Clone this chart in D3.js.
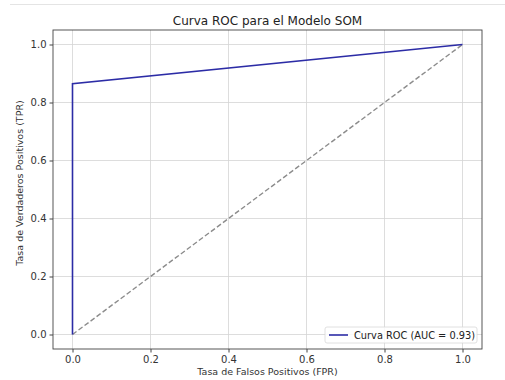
<!DOCTYPE html>
<html>
<head>
<meta charset="utf-8">
<script src="https://cdn.jsdelivr.net/npm/d3@7"></script>
<style>
  html, body { margin: 0; padding: 0; background: #fff; }
  svg { display: block; font-family: "DejaVu Sans", sans-serif; }
</style>
</head>
<body>
<svg id="chart" width="505" height="380"></svg>
<script>
// ROC curve points (FPR, TPR)
const fpr = [0.0, 0.0, 1.0];
const tpr = [0.0, 0.865, 1.0];
const aucValue = 0.93;
// Reference diagonal of a random classifier
const diagX = [0, 1];
const diagY = [0, 1];
const tickValues = [0.0, 0.2, 0.4, 0.6, 0.8, 1.0];

const svg = d3.select("#chart");
const m = { left: 53, right: 482, top: 30, bottom: 349 };

const x = d3.scaleLinear().domain([-0.05, 1.05]).range([m.left, m.right]);
const y = d3.scaleLinear().domain([-0.05, 1.05]).range([m.bottom, m.top]);

// faint rule across the top of the page
svg.append("line").attr("x1", 10).attr("x2", 505).attr("y1", 4.5).attr("y2", 4.5)
  .attr("stroke", "#e4e4e4").attr("stroke-width", 1);

// grid
const grid = svg.append("g");
grid.selectAll(".gx").data(tickValues).enter().append("line")
  .attr("x1", d => x(d)).attr("x2", d => x(d))
  .attr("y1", m.top).attr("y2", m.bottom)
  .attr("stroke", "#d4d4d4").attr("stroke-width", 0.8);
grid.selectAll(".gy").data(tickValues).enter().append("line")
  .attr("y1", d => y(d)).attr("y2", d => y(d))
  .attr("x1", m.left).attr("x2", m.right)
  .attr("stroke", "#d4d4d4").attr("stroke-width", 0.8);

// axes
const fmt = d3.format(".1f");
const xAxis = svg.append("g").attr("transform", `translate(0,${m.bottom})`)
  .call(d3.axisBottom(x).tickValues(tickValues).tickFormat(fmt).tickSize(3.5).tickPadding(3));
const yAxis = svg.append("g").attr("transform", `translate(${m.left},0)`)
  .call(d3.axisLeft(y).tickValues(tickValues).tickFormat(fmt).tickSize(3.5).tickPadding(3));
[xAxis, yAxis].forEach(a => {
  a.select(".domain").remove();
  a.selectAll("text").attr("font-size", 10).attr("fill", "#333")
    .attr("font-family", "DejaVu Sans, sans-serif");
  a.selectAll("line").attr("stroke", "#444");
});

// diagonal
const line = d3.line().x(d => x(d[0])).y(d => y(d[1]));
svg.append("path").datum(d3.zip(diagX, diagY)).attr("d", line)
  .attr("fill", "none").attr("stroke", "#8c8c8c").attr("stroke-width", 1.4)
  .attr("stroke-dasharray", "5,2.5");

// ROC curve
const rocColor = "#2c2ca6";
svg.append("path").datum(d3.zip(fpr, tpr)).attr("d", line)
  .attr("fill", "none").attr("stroke", rocColor).attr("stroke-width", 1.6)
  .attr("stroke-linejoin", "miter");

// frame
svg.append("rect").attr("x", m.left).attr("y", m.top)
  .attr("width", m.right - m.left).attr("height", m.bottom - m.top)
  .attr("fill", "none").attr("stroke", "#444").attr("stroke-width", 0.9);

// title and labels
const midX = (m.left + m.right) / 2;
svg.append("text").attr("x", midX).attr("y", 25).attr("text-anchor", "middle")
  .attr("font-size", 12).attr("fill", "#222").text("Curva ROC para el Modelo SOM");
svg.append("text").attr("x", midX).attr("y", 375).attr("text-anchor", "middle")
  .attr("font-size", 9.5).attr("fill", "#333").text("Tasa de Falsos Positivos (FPR)");
svg.append("text").attr("transform", `translate(23,183) rotate(-90)`)
  .attr("text-anchor", "middle").attr("font-size", 9.5).attr("fill", "#333")
  .text("Tasa de Verdaderos Positivos (TPR)");

// legend
const lg = svg.append("g");
lg.append("rect").attr("x", 325).attr("y", 327).attr("width", 152).attr("height", 16)
  .attr("rx", 2).attr("fill", "#fff").attr("fill-opacity", 0.85)
  .attr("stroke", "#d8d8d8").attr("stroke-width", 0.8);
lg.append("line").attr("x1", 329).attr("x2", 348).attr("y1", 335).attr("y2", 335)
  .attr("stroke", rocColor).attr("stroke-width", 1.6);
lg.append("text").attr("x", 354).attr("y", 338.5).attr("font-size", 9.8).attr("fill", "#222")
  .text(`Curva ROC (AUC = ${aucValue.toFixed(2)})`);
</script>
</body>
</html>
